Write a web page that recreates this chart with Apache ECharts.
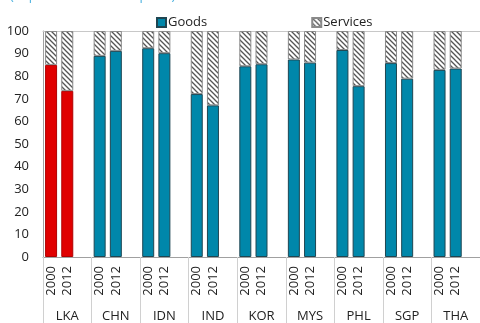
<!DOCTYPE html>
<html><head><meta charset="utf-8">
<script src="https://cdn.jsdelivr.net/npm/echarts@6/dist/echarts.min.js"></script>
<style>html,body{margin:0;padding:0;background:#fff}#c{width:480px;height:323px}</style>
</head><body><div id="c"></div>
<script>
var countries = ['LKA','CHN','IDN','IND','KOR','MYS','PHL','SGP','THA'];
var years = ['2000','2012'];
var goods = [85, 73.5, 89, 91.2, 92.4, 90.2, 72.1, 67.1, 84.4, 85.3, 87.4, 86, 91.6, 75.6, 85.8, 78.9, 82.8, 83.4];
var services = [15, 26.5, 11, 8.8, 7.6, 9.8, 27.9, 32.9, 15.6, 14.7, 12.6, 14, 8.4, 24.4, 14.2, 21.1, 17.2, 16.6];
var highlight = 'LKA';

var cats = [], gData = [], sData = [];
var idx = 0;
countries.forEach(function (c, ci) {
  years.forEach(function (y) {
    cats.push(y);
    var v = goods[idx];
    gData.push(c === highlight ? {value: v, itemStyle: {color: '#E00000', borderColor: '#B00000'}} : v);
    sData.push(services[idx]);
    idx++;
  });
  cats.push('');
  gData.push('-');
  sData.push('-');
});

var pc = document.createElement('canvas');
pc.width = 5; pc.height = 5;
var g = pc.getContext('2d');
g.fillStyle = '#fff'; g.fillRect(0, 0, 5, 5);
g.strokeStyle = '#555'; g.lineWidth = 1.3;
g.beginPath();
g.moveTo(-1, -1); g.lineTo(6, 6);
g.moveTo(-1, 4); g.lineTo(1, 6);
g.moveTo(4, -1); g.lineTo(6, 1);
g.stroke();

var font = '"Open Sans", "Noto Sans", sans-serif';
var chart = echarts.init(document.getElementById('c'), null, {renderer: 'canvas'});
chart.setOption({
  animation: false,
  textStyle: {fontFamily: font},
  graphic: [{type: 'text', left: 10, top: -10, style: {text: '(In percent of total exports)', fill: '#4FB3E0', font: '13px ' + font}}],
  legend: {
    left: 151, top: 11, itemWidth: 9, itemHeight: 9, itemGap: 104, icon: 'rect',
    textStyle: {fontSize: 13, color: '#222', fontFamily: font, padding: [0, 0, 0, -3]},
    data: [{name: 'Goods'}, {name: 'Services'}]
  },
  grid: {left: 43, right: -3, top: 31, bottom: 65},
  xAxis: [
    {type: 'category', data: cats, gridIndex: 0, position: 'bottom',
     axisLine: {lineStyle: {color: '#a0a0a0'}}, axisTick: {show: false},
     axisLabel: {rotate: 90, margin: 9, fontSize: 13, color: '#222', interval: 0}},
    {type: 'category', data: countries, gridIndex: 0, position: 'bottom',
     axisLine: {show: false},
     axisTick: {show: true, length: 66, lineStyle: {color: '#d0d0d0'}},
     axisLabel: {margin: 53, fontSize: 13, color: '#222', interval: 0}},
    {type: 'category', data: countries, gridIndex: 0, position: 'top',
     axisLine: {show: true, lineStyle: {color: '#c8c8c8'}}, axisTick: {show: false}, axisLabel: {show: false}}
  ],
  yAxis: {type: 'value', min: 0, max: 100, interval: 10,
    axisLine: {show: true, lineStyle: {color: '#a0a0a0'}}, axisTick: {show: false},
    splitLine: {show: false},
    axisLabel: {margin: 14, fontSize: 13, color: '#222'}},
  series: [
    {name: 'Goods', type: 'bar', stack: 's', xAxisIndex: 0, barWidth: 12, data: gData,
     itemStyle: {color: '#0087AA', borderColor: '#1f4652', borderWidth: 1}},
    {name: 'Services', type: 'bar', stack: 's', xAxisIndex: 0, barWidth: 12, data: sData,
     itemStyle: {color: {image: pc, repeat: 'repeat'}, borderColor: '#8a8a8a', borderWidth: 1}}
  ]
});
</script></body></html>
